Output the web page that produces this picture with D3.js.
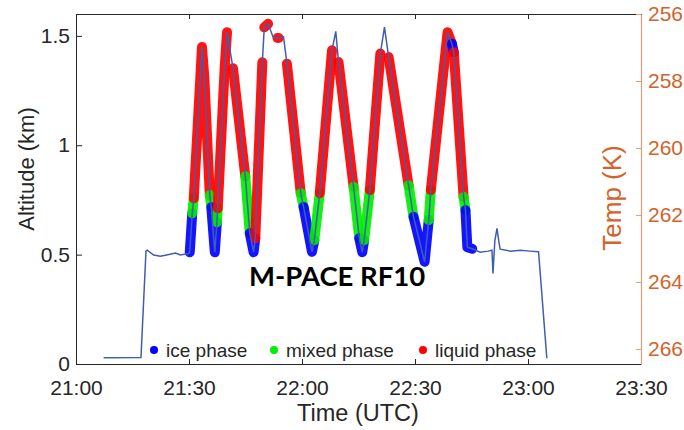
<!DOCTYPE html>
<html>
<head>
<meta charset="utf-8">
<script src="https://cdn.jsdelivr.net/npm/d3@7"></script>
<style>
  body { margin: 0; background: #fff; }
  #chart svg { display: block; font-family: "Liberation Sans", Arial, sans-serif; }
</style>
</head>
<body>
<div id="chart"></div>
<script>
// flight track
var times = ["21:07:20","21:17:15","21:18:35","21:18:54","21:20:36","21:22:24","21:25:00","21:26:24","21:27:42","21:29:54",
             "21:30:12","21:30:52","21:31:16","21:33:27","21:34:04","21:35:31","21:35:55","21:36:51","21:37:24","21:37:38",
             "21:39:30","21:40:06","21:41:41","21:44:57","21:46:08","21:47:09","21:47:36","21:49:28","21:49:59","21:51:00",
             "21:52:18","21:53:30","21:53:48","21:55:06","21:56:00","21:59:40","22:00:25","22:02:39","22:03:16","22:04:43",
             "22:07:58","22:08:58","22:09:42","22:13:42","22:15:12","22:16:00","22:16:30","22:18:00","22:20:48","22:21:54",
             "22:23:00","22:28:18","22:29:36","22:32:33","22:33:39","22:34:12","22:38:39","22:39:48","22:40:18","22:42:54",
             "22:43:24","22:43:54","22:45:12","22:47:18","22:49:27","22:50:26","22:50:42","22:51:12","22:51:46","22:52:12",
             "22:52:36","22:55:18","22:57:54","23:00:36","23:02:48","23:05:00"];
var altitude = [0.029,0.030,0.517,0.520,0.498,0.493,0.502,0.507,0.498,0.505,
                0.511,0.689,0.758,1.449,1.311,0.772,0.717,0.511,0.648,0.712,
                1.365,1.517,1.352,0.858,0.598,0.511,0.575,1.379,1.539,1.555,
                1.495,1.490,1.490,1.495,1.373,0.781,0.718,0.513,0.566,0.781,
                1.434,1.521,1.380,0.810,0.575,0.511,0.566,0.795,1.419,1.540,
                1.403,0.817,0.673,0.467,0.658,0.795,1.517,1.464,1.425,0.764,
                0.703,0.534,0.527,0.511,0.516,0.520,0.414,0.563,0.620,0.566,
                0.525,0.516,0.520,0.516,0.513,0.026];
// phase of the stretch that starts at each sample ("" = no marker)
var phase = ["","","","","","","","","","",
             "ice","mixed","liquid","liquid","liquid","mixed","ice","ice","mixed","liquid",
             "liquid","","liquid","mixed","ice","ice","liquid","","liquid","",
             "","liquid","","","liquid","mixed","ice","ice","mixed","liquid",
             "","","liquid","mixed","ice","ice","mixed","liquid","","",
             "liquid","mixed","ice","ice","mixed","liquid","liquid","ice","liquid","mixed",
             "ice","ice","","","","","","","","",
             "","","","","",""];

var phaseKeys = ["ice","mixed","liquid"];
var phaseNames = ["ice phase","mixed phase","liquid phase"];
var phaseColors = ["#0000ff","#00ee00","#ff0000"];

var timeTicks = ["21:00","21:30","22:00","22:30","23:00","23:30"];
var altTicks = [0, 0.5, 1, 1.5];
var tempTicks = [256, 258, 260, 262, 264, 266];

var width = 684, height = 430;
var margin = {top: 14, right: 43, bottom: 66, left: 76};

var parseT = d3.timeParse("%H:%M:%S");
var parseTick = d3.timeParse("%H:%M");

var track = times.map(function(t, i){ return {t: parseT(t), a: altitude[i], p: phase[i]}; });

var x = d3.scaleTime()
    .domain([parseTick(timeTicks[0]), parseTick(timeTicks[timeTicks.length-1])])
    .range([margin.left, width - margin.right]);
var y = d3.scaleLinear()
    .domain([0, 1.6])
    .range([height - margin.bottom, margin.top]);
var yT = d3.scaleLinear()
    .domain([256, 266.45])
    .range([margin.top, height - margin.bottom]);

var svg = d3.select("#chart").append("svg")
    .attr("width", width)
    .attr("height", height);

var line = d3.line()
    .x(function(d){ return x(d.t); })
    .y(function(d){ return y(d.a); });

// phase bands: group consecutive stretches of the same phase
var runs = [];
track.forEach(function(d, i){
  if (i == track.length-1 || !d.p) return;
  var last = runs[runs.length-1];
  if (last && last.p == d.p && last.end == i) {
    last.pts.push(track[i+1]); last.end = i+1;
  } else {
    runs.push({p: d.p, pts: [d, track[i+1]], end: i+1});
  }
});

svg.append("g").selectAll("path")
    .data(runs)
    .enter().append("path")
    .attr("d", function(r){ return line(r.pts); })
    .attr("fill", "none")
    .attr("stroke", function(r){ return phaseColors[phaseKeys.indexOf(r.p)]; })
    .attr("stroke-width", 10)
    .attr("stroke-linecap", "round")
    .attr("stroke-linejoin", "round")
    .attr("stroke-opacity", 0.92);

svg.append("path")
    .datum(track)
    .attr("d", line)
    .attr("fill", "none")
    .attr("stroke", "#3f5fae")
    .attr("stroke-width", 1.5);

// axes
var axisColor = "#262626";
var tempColor = "#d4622b";

var gx = svg.append("g")
    .attr("transform", "translate(0," + (height - margin.bottom) + ")")
    .call(d3.axisBottom(x)
      .tickValues(timeTicks.map(parseTick))
      .tickFormat(d3.timeFormat("%H:%M"))
      .tickSizeInner(-5).tickSizeOuter(0).tickPadding(16));

var gtop = svg.append("g")
    .attr("transform", "translate(0," + margin.top + ")")
    .call(d3.axisTop(x)
      .tickValues(timeTicks.map(parseTick))
      .tickFormat("")
      .tickSizeInner(-5).tickSizeOuter(0));

var gy = svg.append("g")
    .attr("transform", "translate(" + margin.left + ",0)")
    .call(d3.axisLeft(y)
      .tickValues(altTicks)
      .tickFormat(d3.format("~g"))
      .tickSizeInner(-6).tickSizeOuter(0).tickPadding(6));

var gr = svg.append("g")
    .attr("transform", "translate(" + (width - margin.right) + ",0)")
    .call(d3.axisRight(yT)
      .tickValues(tempTicks)
      .tickSizeInner(-5).tickSizeOuter(0).tickPadding(7));

[gx, gtop, gy].forEach(function(g){
  g.select(".domain").attr("stroke", axisColor).attr("stroke-width", 1);
  g.selectAll(".tick line").attr("stroke", axisColor);
  g.selectAll("text").attr("fill", axisColor).style("font-size", "21px")
      .style("font-family", '"Liberation Sans", Arial, sans-serif');
});
gr.select(".domain").attr("stroke", "#d9a07f").attr("stroke-width", 1.2);
gr.selectAll(".tick line").attr("stroke", "#d9a07f");
gr.selectAll("text").attr("fill", tempColor).style("font-size", "21px")
    .style("font-family", '"Liberation Sans", Arial, sans-serif');

// axis labels
svg.append("text")
    .attr("transform", "translate(34,169) rotate(-90)")
    .attr("text-anchor", "middle")
    .attr("fill", axisColor)
    .style("font-size", "22px")
    .text("Altitude (km)");

svg.append("text")
    .attr("transform", "translate(621,198) rotate(-90)")
    .attr("text-anchor", "middle")
    .attr("fill", tempColor)
    .style("font-size", "26px")
    .text("Temp (K)");

svg.append("text")
    .attr("x", 358).attr("y", 421)
    .attr("text-anchor", "middle")
    .attr("fill", axisColor)
    .style("font-size", "23.5px")
    .text("Time (UTC)");

svg.append("text")
    .attr("x", 249).attr("y", 286)
    .attr("fill", "#000")
    .style("font-family", "Lato, 'Open Sans', sans-serif")
    .style("font-weight", "bold")
    .style("font-size", "27.5px")
    .text("M-PACE RF10");

// legend
var legX = [154, 274, 423];
var leg = svg.append("g").selectAll("g")
    .data(phaseNames)
    .enter().append("g")
    .attr("transform", function(d, i){ return "translate(" + legX[i] + ",350)"; });
leg.append("circle")
    .attr("r", 4)
    .attr("fill", function(d, i){ return phaseColors[i]; });
leg.append("text")
    .attr("x", 12).attr("y", 7)
    .attr("fill", axisColor)
    .style("font-size", "19px")
    .text(function(d){ return d; });
</script>
</body>
</html>
